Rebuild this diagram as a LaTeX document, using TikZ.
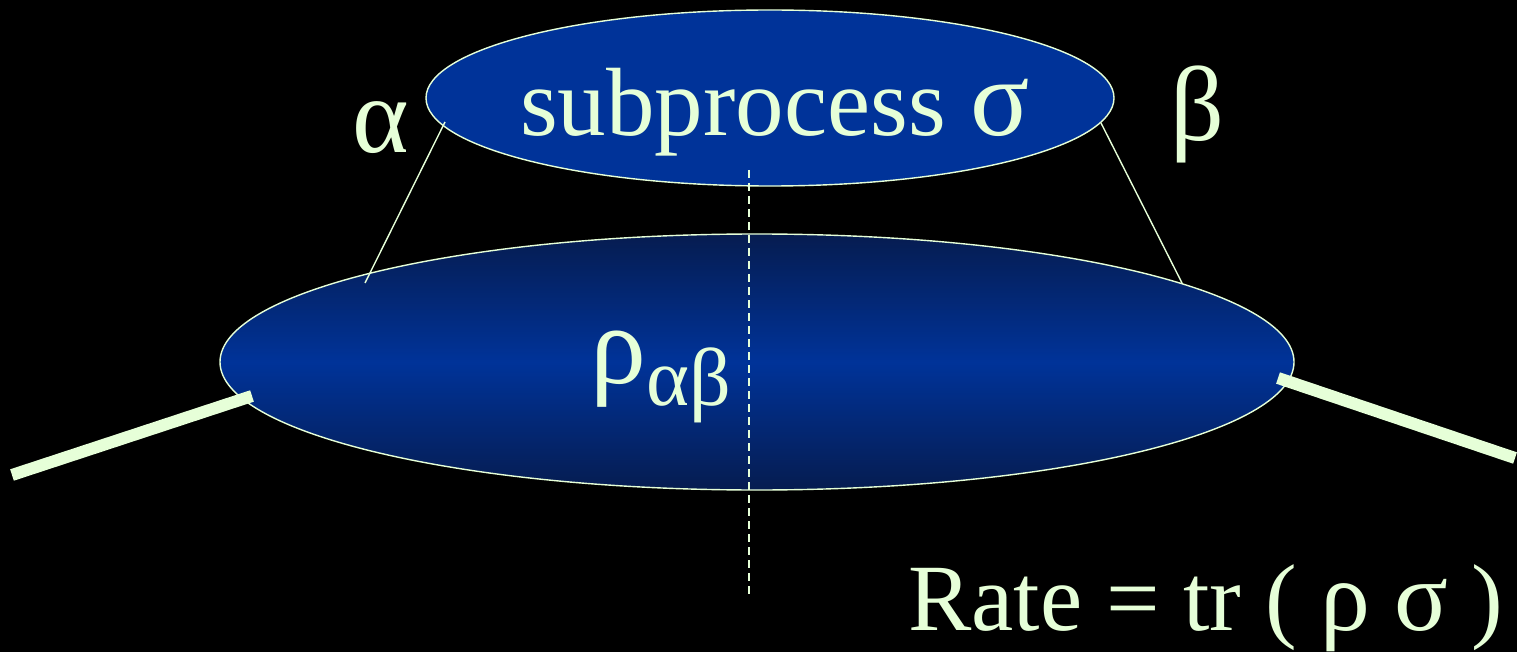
\documentclass[tikz,border=0pt]{standalone}
\usepackage{fontspec}
\setmainfont{Liberation Serif}
\usetikzlibrary{shapes.geometric}
\definecolor{lightfg}{HTML}{E6FFD8}
\definecolor{blueA}{HTML}{003399}
\definecolor{blueDark}{HTML}{061C50}
\newcommand{\gk}[2]{{\fontsize{#1}{#1}\selectfont #2}}
\tikzset{
  blob/.style={ellipse, inner sep=0pt, draw=lightfg, line width=1.4pt},
  lbl/.style={text=lightfg, inner sep=0pt, font=\fontsize{97}{100}\selectfont},
  thin/.style={draw=lightfg, line width=1.4pt},
  leg/.style={draw=lightfg, line width=12pt},
  cut/.style={draw=lightfg, line width=1.5pt, dash pattern=on 8pt off 5pt}
}
\begin{document}
\begin{tikzpicture}[x=1pt,y=-1pt]
\fill[black] (0,0) rectangle (1517,652);
\useasboundingbox (0,0) rectangle (1517,652);
% big ellipse
\node[blob, minimum width=1074pt, minimum height=256pt,
      top color=blueDark, bottom color=blueDark, middle color=blueA] (rho) at (757,362) {};
% top ellipse
\node[blob, fill=blueA, minimum width=688pt, minimum height=176pt] (sigma) at (770,98) {};
% connector end points
\coordinate (a1) at (445,122);
\coordinate (a2) at (365,283);
\coordinate (b1) at (1101,123);
\coordinate (b2) at (1182,283);
\coordinate (l1) at (12,475);
\coordinate (l2) at (252,396);
\coordinate (r1) at (1278,378);
\coordinate (r2) at (1515,458);
\coordinate (c1) at (749,170);
\coordinate (c2) at (749,598);
\draw[thin] (a1) -- (a2);
\draw[thin] (b1) -- (b2);
\draw[leg] (l1) -- (l2);
\draw[leg] (r1) -- (r2);
\draw[cut] (c1) -- (c2);
% texts
\node[lbl, anchor=base west] (sub) at (520,136) {subprocess \gk{110}{σ}};
\node[lbl, anchor=base] (alpha) at (381,153) {\gk{108}{α}};
\node[lbl, anchor=base] (beta) at (1197,141) {\gk{106}{β}};
\node[lbl, anchor=base west] (rhotxt) at (590,383) {\gk{112}{ρ}\raisebox{-22pt}{\gk{82}{αβ}}};
\node[lbl, anchor=base west, font=\fontsize{95}{100}\selectfont] (rate) at (908,630) {Rate = tr ( \gk{100}{ρ} \gk{100}{σ} )};
\end{tikzpicture}
\end{document}
